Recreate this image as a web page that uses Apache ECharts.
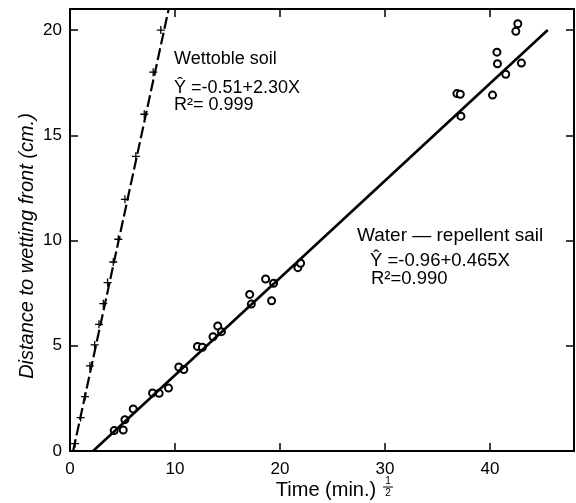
<!DOCTYPE html>
<html>
<head>
<meta charset="utf-8">
<script src="https://cdn.jsdelivr.net/npm/echarts@6/dist/echarts.min.js"></script>
<style>
html,body{margin:0;padding:0;background:#fff;}
#chart{width:576px;height:503px;}
</style>
</head>
<body>
<div id="chart"></div>
<script>
// ---- data ----
var wettablePoints = [
  [0.48, 0.35], [1.01, 1.59], [1.43, 2.58], [1.90, 4.04], [2.35, 5.04],
  [2.76, 6.02], [3.17, 7.00], [3.58, 8.00], [4.12, 8.98], [4.60, 10.06],
  [5.23, 11.96], [6.27, 14.00], [7.07, 16.00], [7.92, 18.00], [8.65, 20.00]
];
var wettableLine = [[0.3, 0], [9.4, 21]];
var repellentPoints = [
  [4.21, 0.97], [5.07, 1.00], [5.23, 1.49], [6.02, 2.00], [7.86, 2.76],
  [8.49, 2.74], [9.38, 2.99], [10.36, 3.99], [10.84, 3.87], [12.14, 4.97],
  [12.61, 4.93], [13.62, 5.43], [14.07, 5.94], [14.42, 5.67], [17.11, 7.44],
  [17.27, 6.98], [18.63, 8.17], [19.20, 7.14], [19.39, 7.97], [21.70, 8.71],
  [21.96, 8.92], [36.85, 16.98], [37.17, 16.95], [37.23, 15.91], [40.24, 16.91],
  [40.66, 18.95], [40.71, 18.40], [41.50, 17.90], [42.46, 19.94], [42.65, 20.30],
  [42.99, 18.43]
];
var repellentLine = [[2.2, 0], [45.5, 20]];
var xTicks = [0, 10, 20, 30, 40];
var yTicks = [0, 5, 10, 15, 20];

var FONT = 'Liberation Sans';
var chart = echarts.init(document.getElementById('chart'), null, {renderer: 'canvas'});

function axisBase(extra) {
  var base = {
    type: 'value',
    axisLine: {show: true, onZero: false, lineStyle: {color: '#000', width: 2}},
    axisTick: {show: true, inside: true, length: 8, lineStyle: {color: '#000', width: 1.5}},
    splitLine: {show: false},
    axisLabel: {show: false}
  };
  for (var k in extra) base[k] = extra[k];
  return base;
}

var option = {
  backgroundColor: '#fff',
  animation: false,
  grid: {left: 70, right: 2, top: 9, bottom: 52, containLabel: false},
  xAxis: [
    axisBase({position: 'bottom', min: 0, max: 48, interval: 10,
      axisLabel: {show: true, color: '#000', fontFamily: FONT, fontSize: 17, margin: 10,
        showMaxLabel: false,
        formatter: function (v) { return xTicks.indexOf(v) >= 0 ? String(v) : ''; }}}),
    axisBase({position: 'top', min: 0, max: 48, interval: 10})
  ],
  yAxis: [
    axisBase({position: 'left', min: 0, max: 21, interval: 5,
      axisLabel: {show: true, color: '#000', fontFamily: FONT, fontSize: 17, margin: 8,
        showMaxLabel: false,
        formatter: function (v) { return yTicks.indexOf(v) >= 0 ? String(v) : ''; }}}),
    axisBase({position: 'right', min: 0, max: 21, interval: 5})
  ],
  series: [
    {
      type: 'line', data: wettableLine, symbol: 'none', silent: true,
      lineStyle: {color: '#000', width: 2.2, type: [12, 4]}
    },
    {
      type: 'scatter', data: wettablePoints,
      symbol: 'path://M4.2,0H5.8V4.2H10V5.8H5.8V10H4.2V5.8H0V4.2H4.2Z', symbolSize: 8,
      itemStyle: {color: '#000', opacity: 1}
    },
    {
      type: 'line', data: repellentLine, symbol: 'none', silent: true,
      lineStyle: {color: '#000', width: 2.6}
    },
    {
      type: 'scatter', data: repellentPoints, symbol: 'emptyCircle', symbolSize: 7,
      itemStyle: {color: '#000', borderColor: '#000', borderWidth: 1, opacity: 1}
    }
  ],
  graphic: [
    {type: 'text', left: 174, top: 50, style: {text: 'Wettoble soil', fontFamily: FONT, fontSize: 18, fill: '#000'}},
    {type: 'text', left: 174, top: 79, style: {text: 'Ŷ =-0.51+2.30X', fontFamily: FONT, fontSize: 18, fill: '#000'}},
    {type: 'text', left: 174, top: 96, style: {text: 'R²= 0.999', fontFamily: FONT, fontSize: 18, fill: '#000'}},

    {type: 'text', left: 357, top: 226, style: {text: 'Water — repellent sail', fontFamily: FONT, fontSize: 19, fill: '#000'}},
    {type: 'text', left: 370, top: 251, style: {text: 'Ŷ =-0.96+0.465X', fontFamily: FONT, fontSize: 18.5, fill: '#000'}},
    {type: 'text', left: 371, top: 269, style: {text: 'R²=0.990', fontFamily: FONT, fontSize: 18.5, fill: '#000'}},

    {type: 'text', x: 27, y: 246, rotation: Math.PI / 2,
      style: {text: 'Distance to wetting front (cm.)', fontFamily: FONT, fontStyle: 'italic', fontSize: 20,
        fill: '#000', align: 'center', verticalAlign: 'middle'}},

    {type: 'text', x: 326, y: 490,
      style: {text: 'Time (min.)', fontFamily: FONT, fontSize: 20, fill: '#000', align: 'center', verticalAlign: 'middle'}},
    {type: 'text', x: 388, y: 481,
      style: {text: '1', fontFamily: FONT, fontSize: 10, fill: '#000', align: 'center', verticalAlign: 'middle'}},
    {type: 'line', shape: {x1: 383, y1: 487, x2: 393, y2: 487}, style: {stroke: '#000', lineWidth: 1}},
    {type: 'text', x: 388, y: 493,
      style: {text: '2', fontFamily: FONT, fontSize: 10, fill: '#000', align: 'center', verticalAlign: 'middle'}}
  ]
};
chart.setOption(option);
</script>
</body>
</html>
